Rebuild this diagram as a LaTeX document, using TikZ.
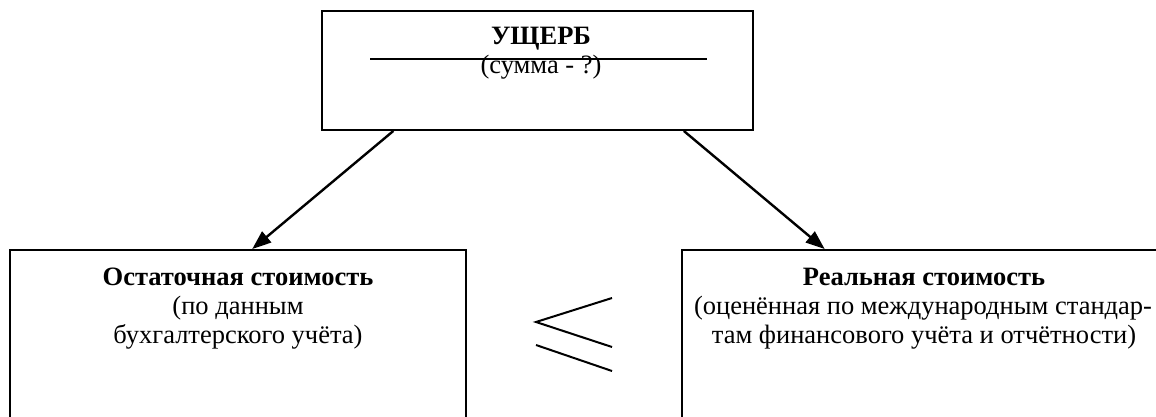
\documentclass[tikz,border=0pt]{standalone}
\usepackage{fontspec}
\setmainfont{Liberation Serif}
\usetikzlibrary{arrows.meta,calc}
\begin{document}
\begin{tikzpicture}[x=1pt,y=-1pt,
  box/.style={draw,line width=1.9pt,rectangle,inner sep=0pt},
  txt/.style={inner sep=0pt,anchor=base,font=\fontsize{26.5}{30}\selectfont},
  btxt/.style={inner sep=0pt,anchor=base,font=\fontsize{26.5}{30}\selectfont\bfseries},
  conn/.style={line width=2.4pt,-{Triangle[length=19pt,width=14pt]}},
  sign/.style={line width=2pt}]
\useasboundingbox (0,0) rectangle (1156,417);
\clip (0,0) rectangle (1156,417);
% boxes
\node[box,minimum width=431pt,minimum height=119pt] (top) at (537.5,70.5) {};
\node[box,minimum width=456pt,minimum height=200pt] (left) at (238,350) {};
\node[box,minimum width=490pt,minimum height=200pt] (right) at (927,350) {};
% top box content
\node[btxt] (t1) at (541,45) {УЩЕРБ};
\coordinate (ls) at (370,59);
\coordinate (le) at (707,59);
\draw[line width=1.6pt] (ls) -- (le);
\node[txt] (t2) at (541,74) {(сумма - ?)};
% left box text
\node[btxt] (l1) at (238,285) {Остаточная стоимость};
\node[txt] (l2) at (238,314) {(по данным};
\node[txt] (l3) at (238,343) {бухгалтерского учёта)};
% right box text
\node[btxt] (r1) at (924,285) {Реальная стоимость};
\node[txt] (r2) at (923,314) {(оценённая по международным стандар-};
\node[txt] (r3) at (924,343) {там финансового учёта и отчётности)};
% connectors
\draw[conn] ($(top.south west)!0.167!(top.south east)$) -- ($(left.north west)!0.531!(left.north east)$);
\draw[conn] ($(top.south west)!0.838!(top.south east)$) -- ($(right.north west)!0.292!(right.north east)$);
% less-or-equal sign
\coordinate (s0) at (536,322);
\coordinate (s1) at (612,298);
\coordinate (s2) at (612,347);
\coordinate (s3) at (536,345);
\coordinate (s4) at (612,371);
\draw[sign] (s1) -- (s0) -- (s2);
\draw[sign] (s3) -- (s4);
\end{tikzpicture}
\end{document}
